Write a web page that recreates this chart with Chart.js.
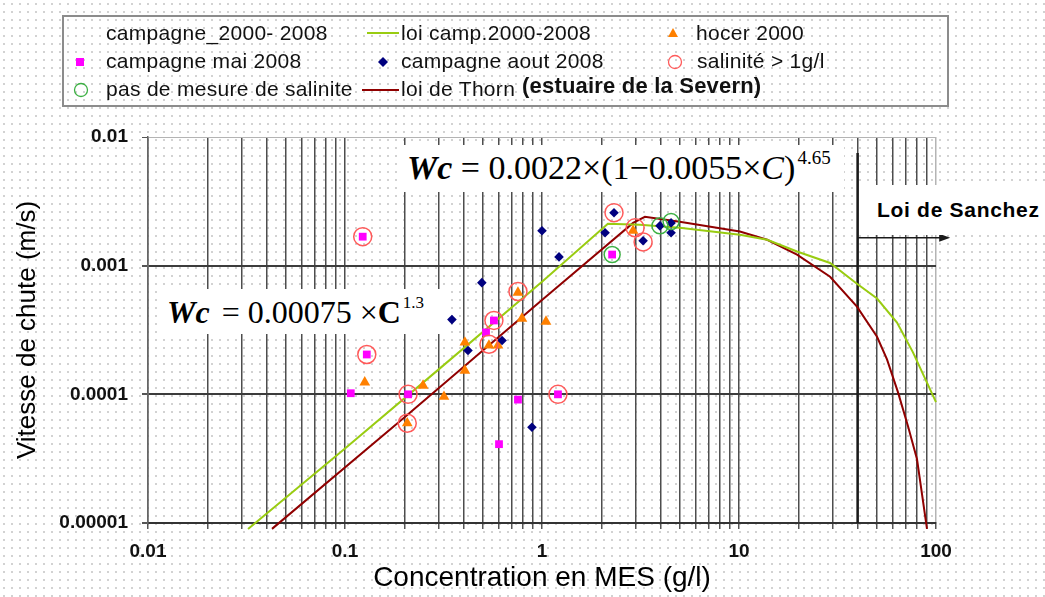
<!DOCTYPE html>
<html lang="fr">
<head>
<meta charset="utf-8">
<title>Vitesse de chute en fonction de la concentration</title>
<script src="https://cdn.jsdelivr.net/npm/chart.js@4.4.1/dist/chart.umd.min.js"></script>
<style>
    html, body { margin: 0; padding: 0; }
    body {
        width: 1045px;
        height: 597px;
        overflow: hidden;
        background-color: #fff;
        background-image: radial-gradient(circle, #d2d2d2 0.8px, rgba(255, 255, 255, 0) 1.3px);
        background-size: 8px 8px;
        font-family: 'Liberation Sans', Arial, sans-serif;
    }
    #wrap { position: relative; width: 1045px; height: 597px; }
    #chart { position: absolute; left: 0; top: 0; }
    #legendBox {
        position: absolute; left: 62px; top: 15px; width: 887px; height: 92px;
        box-sizing: border-box; border: 2px solid #8c8c8c;
    }
    .lg { position: absolute; font-size: 21px; line-height: 21px; letter-spacing: 0.3px; color: #111; white-space: nowrap; }
    .mk { position: absolute; }
    .box { position: absolute; background: #fff; }
    .eq { position: absolute; font-family: 'Liberation Serif', 'Times New Roman', serif; color: #000; white-space: nowrap; line-height: 1; }
    .eq .sup { position: relative; }
</style>
</head>
<body>
<div id="wrap">
    <canvas id="chart" width="1045" height="597"></canvas>

    <!-- legend -->
    <div id="legendBox"></div>
    <div class="lg" style="left:106px; top:22px;">campagne_2000- 2008</div>
    <div class="mk" style="left:367px; top:32px; width:32px; height:2px; background:#99cc11;"></div>
    <div class="lg" style="left:401px; top:22px;">loi camp.2000-2008</div>
    <svg class="mk" style="left:667px; top:27px;" width="12" height="12"><polygon points="6,1 11,10 1,10" fill="#ff8000"/></svg>
    <div class="lg" style="left:696px; top:22px;">hocer 2000</div>

    <div class="mk" style="left:76px; top:58px; width:8px; height:8px; background:#ff00ff;"></div>
    <div class="lg" style="left:106px; top:50px;">campagne mai 2008</div>
    <svg class="mk" style="left:378px; top:57px;" width="10" height="10"><polygon points="5,0 10,5 5,10 0,5" fill="#00007f"/></svg>
    <div class="lg" style="left:401px; top:50px;">campagne aout 2008</div>
    <svg class="mk" style="left:667px; top:54px;" width="16" height="16"><circle cx="8" cy="8" r="6.5" fill="none" stroke="#ff5a5a" stroke-width="1.3"/></svg>
    <div class="lg" style="left:697px; top:50px;">salinité &gt; 1g/l</div>

    <svg class="mk" style="left:73px; top:82px;" width="16" height="16"><circle cx="8" cy="8" r="6.5" fill="none" stroke="#3cb043" stroke-width="1.3"/></svg>
    <div class="lg" style="left:106px; top:78px;">pas de mesure de salinite</div>
    <div class="mk" style="left:362px; top:89px; width:37px; height:2px; background:#900000;"></div>
    <div class="lg" style="left:401px; top:78px;">loi de Thorn</div>
    <div class="lg" style="left:522px; top:75px; font-size:22px; line-height:22px; font-weight:bold; letter-spacing:0.2px;">(estuaire de la Severn)</div>

    <!-- equations -->
    <div class="box" style="left:402px; top:145px; width:442px; height:47px;"></div>
    <div class="eq" style="left:407px; top:151px; font-size:34px;"><b><i>Wc</i></b> = 0.0022×(1−0.0055×<i>C</i>)<span class="sup" style="font-size:19px; top:-15px; margin-left:2px;">4.65</span></div>

    <div class="box" style="left:160px; top:289px; width:287px; height:45px;"></div>
    <div class="eq" style="left:167px; top:296px; font-size:32px;"><b><i>Wc</i></b><span style="margin:0 8px 0 12px;">=</span>0.00075<span style="margin-left:8px;">×</span><b>C</b><span class="sup" style="font-size:17px; top:-15px; margin-left:2px;">1.3</span></div>

    <div class="box" style="left:859px; top:185px; width:186px; height:50px;"></div>
    <div class="lg" style="left:877px; top:199px; font-weight:bold; letter-spacing:0.7px; color:#000;">Loi de Sanchez</div>
</div>

<script>
// axes
const xDecades = [0.01, 0.1, 1, 10, 100];
const xTickLabels = ['0.01', '0.1', '1', '10', '100'];
const yDecades = [0.00001, 0.0001, 0.001, 0.01];
const yTickLabels = ['0.00001', '0.0001', '0.001', '0.01'];

// campagne mai 2008 (carrés magenta)
const maiC = [0.123, 0.129, 0.107, 0.209, 0.755, 0.605, 1.205, 0.52, 0.57, 2.27];
const maiW = [0.00168, 0.000204, 0.000102, 0.0001, 0.000091, 0.000041, 0.0001, 0.000303, 0.000375, 0.00122];

// hocer 2000 (triangles orange)
const hocerC = [0.126, 0.249, 0.318, 0.207, 0.406, 0.406, 0.538, 0.598, 0.755, 0.791, 1.048, 2.9];
const hocerW = [0.000124, 0.000117, 0.000096, 0.0000596, 0.000153, 0.000253, 0.00024, 0.00024, 0.000618, 0.000388, 0.000368, 0.00187];

// campagne aout 2008 (losanges bleus)
const aoutC = [0.349, 0.495, 0.421, 0.627, 1.0, 1.22, 0.889, 2.09, 2.32, 3.26, 3.97, 4.52, 4.52];
const aoutW = [0.000381, 0.000738, 0.000219, 0.000262, 0.00187, 0.00117, 0.0000555, 0.0018, 0.00258, 0.00156, 0.00204, 0.00215, 0.0018];

// salinité > 1g/l (cercles rouges)
const saliniteC = [0.123, 0.129, 0.209, 0.207, 0.57, 0.755, 0.538, 1.205, 2.32, 2.97, 3.26];
const saliniteW = [0.00168, 0.000204, 0.0001, 0.0000596, 0.000375, 0.00063, 0.000245, 0.0001, 0.00258, 0.00197, 0.00153];

// pas de mesure de salinite (cercles verts)
const sansMesureC = [2.27, 3.97, 4.52];
const sansMesureW = [0.00122, 0.00204, 0.0022];

// loi camp.2000-2008
const loiCampC = [0.0322, 0.1, 0.3, 1, 2.16, 3.14, 5.0, 10.1, 13.9, 19.7, 29, 39.7, 50.2, 63.4, 76.4, 100];
const loiCampW = [0.00000897, 0.000038, 0.000157, 0.00075, 0.00212, 0.00208, 0.00197, 0.00174, 0.00159, 0.00129, 0.00105, 0.000724, 0.000555, 0.000361, 0.000212, 0.000087];

// loi de Thorn (estuaire de la Severn)
const thornC = [0.0426, 0.2, 1, 2.9, 3.33, 5.0, 10.1, 13.9, 19.7, 29, 39.7, 50.2, 56.4, 64.1, 72.1, 80.1, 90];
const thornW = [0.000009, 0.000066, 0.00054, 0.00215, 0.0024, 0.00219, 0.00184, 0.00159, 0.00122, 0.00082, 0.00048, 0.00028, 0.000187, 0.000104, 0.0000565, 0.0000313, 0.000009];

// loi de Sanchez (limite et flèche)
const sanchezC = 40;
const sanchezTopW = 0.0075;
const sanchezArrowW = 0.00165;
const sanchezArrowEndC = 118;

const pts = (xs, ys) => xs.map((x, i) => ({ x: x, y: ys[i] }));

// minor ticks between decades, labels only on decades
const xTicks = [];
xDecades.forEach((d, i) => {
    xTicks.push({ value: d, label: xTickLabels[i] });
    if (i < xDecades.length - 1) {
        for (let m = 2; m <= 9; m++) {
            xTicks.push({ value: +(d * m).toPrecision(3), label: '' });
        }
    }
});

const sanchezPlugin = {
    id: 'sanchez',
    beforeDatasetsDraw(chart) {
        const { ctx, scales: { x, y } } = chart;
        const px = x.getPixelForValue(sanchezC);
        const ay = y.getPixelForValue(sanchezArrowW);
        const ax = x.getPixelForValue(sanchezArrowEndC);
        ctx.save();
        ctx.strokeStyle = '#1a1a1a';
        ctx.fillStyle = '#1a1a1a';
        ctx.lineWidth = 2.5;
        ctx.beginPath();
        ctx.moveTo(px, y.getPixelForValue(sanchezTopW));
        ctx.lineTo(px, y.getPixelForValue(yDecades[0]));
        ctx.stroke();
        ctx.lineWidth = 1.5;
        ctx.beginPath();
        ctx.moveTo(px, ay);
        ctx.lineTo(ax - 8, ay);
        ctx.stroke();
        ctx.beginPath();
        ctx.moveTo(ax, ay);
        ctx.lineTo(ax - 11, ay - 4);
        ctx.lineTo(ax - 11, ay + 4);
        ctx.closePath();
        ctx.fill();
        ctx.restore();
    }
};

const lineClip = { left: 0, top: 0, right: 2, bottom: 8 };

new Chart(document.getElementById('chart'), {
    type: 'scatter',
    data: {
        datasets: [
            {
                label: 'salinité > 1g/l',
                data: pts(saliniteC, saliniteW),
                pointStyle: 'circle',
                pointRadius: 9,
                pointBorderWidth: 1.5,
                pointBorderColor: '#ff5a5a',
                pointBackgroundColor: 'rgba(0,0,0,0)',
                order: 0
            },
            {
                label: 'pas de mesure de salinite',
                data: pts(sansMesureC, sansMesureW),
                pointStyle: 'circle',
                pointRadius: 8,
                pointBorderWidth: 1.5,
                pointBorderColor: '#3cb043',
                pointBackgroundColor: 'rgba(0,0,0,0)',
                order: 0
            },
            {
                label: 'campagne mai 2008',
                data: pts(maiC, maiW),
                pointStyle: 'rect',
                pointRadius: 5.5,
                pointBorderWidth: 0,
                pointBorderColor: '#ff00ff',
                pointBackgroundColor: '#ff00ff',
                order: 1
            },
            {
                label: 'campagne aout 2008',
                data: pts(aoutC, aoutW),
                pointStyle: 'rectRot',
                pointRadius: 4.8,
                pointBorderWidth: 0,
                pointBorderColor: '#00007f',
                pointBackgroundColor: '#00007f',
                order: 1
            },
            {
                label: 'hocer 2000',
                data: pts(hocerC, hocerW),
                pointStyle: 'triangle',
                pointRadius: 6.2,
                pointBorderWidth: 0,
                pointBorderColor: '#ff8000',
                pointBackgroundColor: '#ff8000',
                order: 1
            },
            {
                label: 'loi camp.2000-2008',
                data: pts(loiCampC, loiCampW),
                showLine: true,
                borderColor: '#99cc11',
                borderWidth: 2,
                pointRadius: 0,
                tension: 0,
                clip: lineClip,
                order: 2
            },
            {
                label: 'loi de Thorn',
                data: pts(thornC, thornW),
                showLine: true,
                borderColor: '#900000',
                borderWidth: 2,
                pointRadius: 0,
                tension: 0,
                clip: lineClip,
                order: 2
            }
        ]
    },
    options: {
        responsive: false,
        animation: false,
        devicePixelRatio: 1,
        events: [],
        layout: { padding: { top: 137, right: 109, left: 0, bottom: 0 } },
        plugins: {
            legend: { display: false },
            tooltip: { enabled: false }
        },
        scales: {
            x: {
                type: 'logarithmic',
                min: 0.01,
                max: 100,
                afterBuildTicks: scale => { scale.ticks = xTicks.map(t => ({ value: t.value })); },
                afterFit: scale => { scale.height = 74; },
                ticks: {
                    autoSkip: false,
                    maxRotation: 0,
                    padding: 11,
                    color: '#111',
                    font: { family: 'Liberation Sans', size: 19, weight: 'bold' },
                    callback: (value, index) => (xTicks[index] ? xTicks[index].label : '')
                },
                grid: {
                    color: ctx => (ctx.tick && ctx.tick.value === 100 ? '#b4b4b4' : '#4d4d4d'),
                    lineWidth: 1.5,
                    tickLength: 6,
                    tickColor: '#555'
                },
                border: { color: '#333', width: 2 },
                title: {
                    display: true,
                    text: 'Concentration en MES (g/l)',
                    color: '#000',
                    font: { family: 'Liberation Sans', size: 28 },
                    padding: { top: 0, bottom: 2 }
                }
            },
            y: {
                type: 'logarithmic',
                min: 0.00001,
                max: 0.01,
                afterBuildTicks: scale => { scale.ticks = yDecades.map(v => ({ value: v })); },
                afterFit: scale => { scale.width = 148; },
                ticks: {
                    padding: 14,
                    color: '#111',
                    font: { family: 'Liberation Sans', size: 19, weight: 'bold' },
                    callback: (value, index) => yTickLabels[index]
                },
                grid: {
                    color: ctx => (ctx.tick && ctx.tick.value === 0.01 ? '#b4b4b4' : '#3c3c3c'),
                    lineWidth: ctx => (ctx.tick && ctx.tick.value === 0.01 ? 1 : 2),
                    tickLength: 6,
                    tickColor: '#555'
                },
                border: { color: '#666', width: 1.5 },
                title: {
                    display: true,
                    text: 'Vitesse de chute (m/s)',
                    color: '#000',
                    font: { family: 'Liberation Sans', size: 26 },
                    padding: { top: 12 }
                }
            }
        }
    },
    plugins: [sanchezPlugin]
});
</script>
</body>
</html>
